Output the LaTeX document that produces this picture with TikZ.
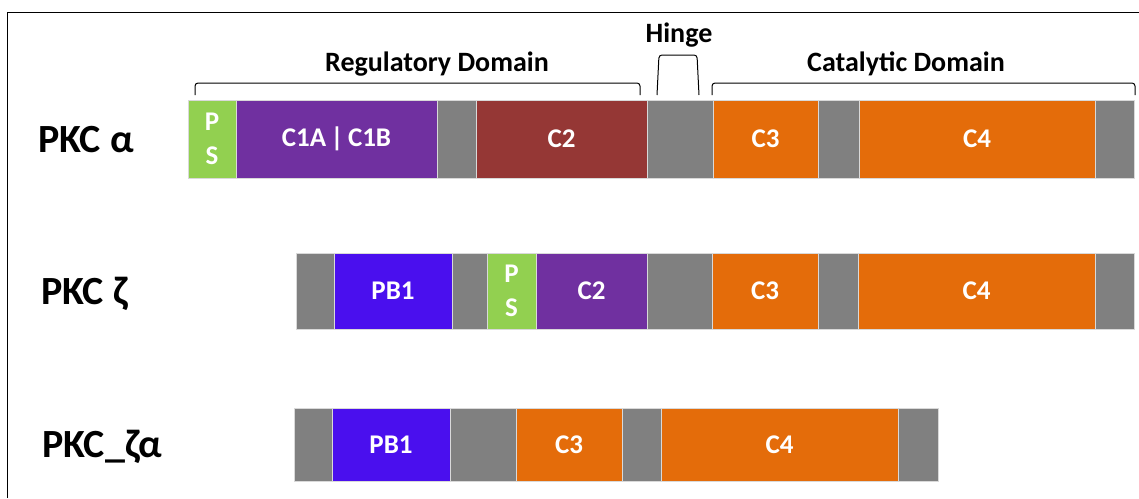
\documentclass[tikz,border=0pt]{standalone}
\usepackage{fontspec}
\setmainfont{Carlito}
\usetikzlibrary{positioning}

\definecolor{psgreen}{HTML}{92D050}
\definecolor{cpurple}{HTML}{7030A0}
\definecolor{linkgray}{HTML}{808080}
\definecolor{cred}{HTML}{953735}
\definecolor{corange}{HTML}{E46C0A}
\definecolor{pbblue}{HTML}{4A0FEE}

\tikzset{
  seg/.style = {draw = white!85!black, line width = 0.8pt, inner sep = 0pt,
                outer sep = 0pt, text = white, align = center,
                font = \fontsize{27}{34}\selectfont\bfseries},
  link/.style = {seg, fill = linkgray},
  rowlbl/.style = {anchor = base west, inner sep = 0pt,
                   font = \fontsize{40}{42}\selectfont\bfseries},
  domlbl/.style = {anchor = base, inner sep = 0pt,
                   font = \fontsize{28}{30}\selectfont\bfseries},
  brace/.style = {line width = 1pt, rounded corners = 3pt}
}

\begin{document}
\begin{tikzpicture}[x = 1pt, y = -1pt]
    \useasboundingbox (0, 0) rectangle (1139, 498);
    \draw[line width = 1.6pt] (7.5, 498) -- (7.5, 12.5) -- (1139, 12.5);

    % PKC alpha
    \begin{scope}[every node/.append style = {minimum height = 78pt}]
      \node[seg, fill = psgreen, minimum width = 48pt, anchor = west] (a1) at (188, 139) {P\\S};
      \node[seg, fill = cpurple, minimum width = 201pt, right = 0pt of a1] (a2) {C1A\,|\,C1B};
      \node[link, minimum width = 39pt, right = 0pt of a2] (a3) {};
      \node[seg, fill = cred, minimum width = 171pt, right = 0pt of a3] (a4) {C2};
      \node[link, minimum width = 66pt, right = 0pt of a4] (a5) {};
      \node[seg, fill = corange, minimum width = 105pt, right = 0pt of a5] (a6) {C3};
      \node[link, minimum width = 41pt, right = 0pt of a6] (a7) {};
      \node[seg, fill = corange, minimum width = 236pt, right = 0pt of a7] (a8) {C4};
      \node[link, minimum width = 39pt, right = 0pt of a8] (a9) {};
    \end{scope}

    % PKC zeta
    \begin{scope}[every node/.append style = {minimum height = 76pt}]
      \node[link, minimum width = 38pt, anchor = west] (z1) at (296, 291) {};
      \node[seg, fill = pbblue, minimum width = 118pt, right = 0pt of z1] (z2) {PB1};
      \node[link, minimum width = 35pt, right = 0pt of z2] (z3) {};
      \node[seg, fill = psgreen, minimum width = 49pt, right = 0pt of z3] (z4) {P\\S};
      \node[seg, fill = cpurple, minimum width = 111pt, right = 0pt of z4] (z5) {C2};
      \node[link, minimum width = 65pt, right = 0pt of z5] (z6) {};
      \node[seg, fill = corange, minimum width = 106pt, right = 0pt of z6] (z7) {C3};
      \node[link, minimum width = 40pt, right = 0pt of z7] (z8) {};
      \node[seg, fill = corange, minimum width = 237pt, right = 0pt of z8] (z9) {C4};
      \node[link, minimum width = 39pt, right = 0pt of z9] (z10) {};
    \end{scope}

    % PKC zeta-alpha
    \begin{scope}[every node/.append style = {minimum height = 73pt}]
      \node[link, minimum width = 38pt, anchor = west] (za1) at (294, 444.5) {};
      \node[seg, fill = pbblue, minimum width = 118pt, right = 0pt of za1] (za2) {PB1};
      \node[link, minimum width = 66pt, right = 0pt of za2] (za3) {};
      \node[seg, fill = corange, minimum width = 106pt, right = 0pt of za3] (za4) {C3};
      \node[link, minimum width = 39pt, right = 0pt of za4] (za5) {};
      \node[seg, fill = corange, minimum width = 237pt, right = 0pt of za5] (za6) {C4};
      \node[link, minimum width = 40pt, right = 0pt of za6] (za7) {};
    \end{scope}

    \node[rowlbl] (lblA) at (38, 152) {PKC α};
    \node[rowlbl] (lblZ) at (41, 304) {PKC ζ};
    \node[rowlbl] (lblZA) at (42, 457) {PKC\_ζα};

    % domain braces
    \coordinate (R1) at (195, 95);
    \coordinate (R2) at (640, 95);
    \coordinate (H1) at (657, 95);
    \coordinate (H2) at (699, 95);
    \coordinate (K1) at (712, 95);
    \coordinate (K2) at (1135, 95);

    \draw[brace] (R1) -- (195, 83) -- (640, 83) -- (R2);
    \draw[brace] (H1) -- (659, 55) -- (697, 55) -- (H2);
    \draw[brace] (K1) -- (712, 83) -- (1135, 83) -- (K2);

    \node[domlbl] (regLbl) at (437, 71) {Regulatory Domain};
    \node[domlbl] (hingeLbl) at (679, 42) {Hinge};
    \node[domlbl] (catLbl) at (906, 71) {Catalytic Domain};
  \end{tikzpicture}
\end{document}
